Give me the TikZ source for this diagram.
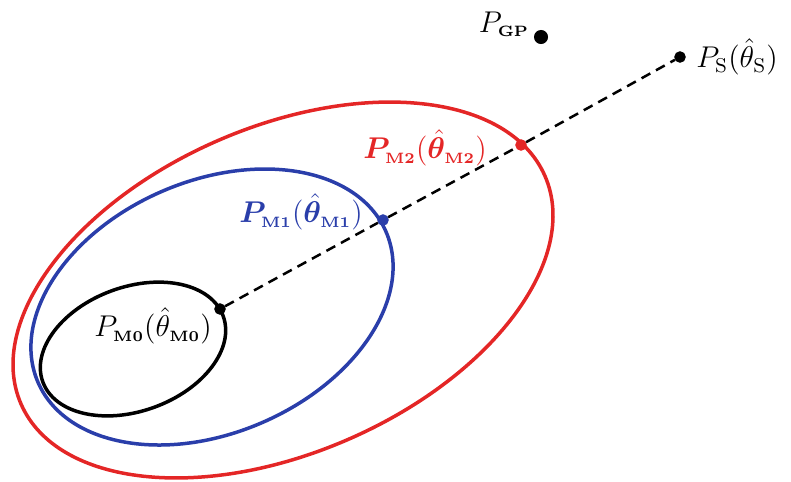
\documentclass[tikz,border=0pt]{standalone}
\usepackage{amsmath, amssymb, bm}
\usepackage{xcolor}
\usetikzlibrary{positioning}
\definecolor{mred}{RGB}{228,38,38}
\definecolor{mblue}{RGB}{42,62,170}
\newcommand{\sub}[1]{{\scriptscriptstyle\mathbf{#1}}}

\begin{document}
\begin{tikzpicture}[
    x=0.4pt, y=-0.4pt,
    dot/.style={draw, circle, fill, inner sep=0pt, minimum size=4.2pt},
    region/.style={line width=1.4pt},
    lbl/.style={font=\large, inner sep=1pt},
    >=stealth
]
    \useasboundingbox (0,0) rectangle (791,481);

    % Regions
    \draw[region, mred, rotate around={23.5:(283,290)}] (283,290) ellipse [x radius=285.7, y radius=163];
    \draw[region, mblue, rotate around={23.4:(212,307)}] (212,307) ellipse [x radius=189.6, y radius=126];
    \draw[region, black, rotate around={20:(133,349)}] (133,349) ellipse [x radius=96, y radius=62];

    % Points
    \node[dot] (m0) at (220,309) {};
    \node[dot, mblue] (m1) at (383,220) {};
    \node[dot, mred] (m2) at (521,145) {};
    \node[dot] (s) at (680,57) {};
    \node[dot, minimum size=5.2pt] (gp) at (541,37) {};

    % Path
    \draw[dashed, line width=1pt, dash pattern=on 4pt off 2.6pt] (m0) -- (m1) -- (m2) -- (s);

    % Labels
    \node[lbl] (lm0) at (153,326) {$P_{\sub{M0}}(\hat{\theta}_{\sub{M0}})$};
    \node[lbl, mblue] (lm1) at (301,212) {$\bm{P}_{\sub{M1}}(\hat{\bm{\theta}}_{\sub{M1}})$};
    \node[lbl, mred] (lm2) at (425,148) {$\bm{P}_{\sub{M2}}(\hat{\bm{\theta}}_{\sub{M2}})$};
    \node[lbl, right=3pt of s] (ls) {$P_{\mathrm{S}}(\hat{\theta}_{\mathrm{S}})$};
    \node[lbl] (lgp) at (504,24) {$P_{\sub{GP}}$};
\end{tikzpicture}
\end{document}
